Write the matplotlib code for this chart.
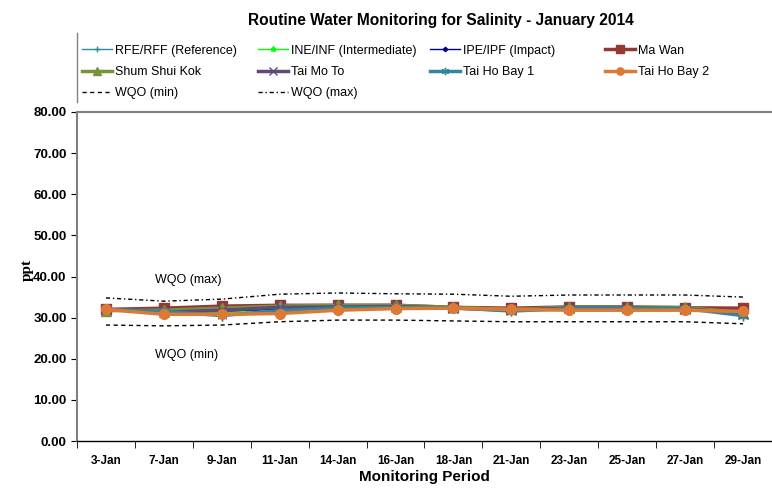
import matplotlib
matplotlib.use('Agg')
import matplotlib.pyplot as plt
from matplotlib.lines import Line2D

# -------------- data ---------------------------------------------------------
dates = ['3-Jan', '7-Jan', '9-Jan', '11-Jan', '14-Jan', '16-Jan',
         '18-Jan', '21-Jan', '23-Jan', '25-Jan', '27-Jan', '29-Jan']

rfe = [32.0, 31.5, 31.5, 32.0, 32.2, 32.4, 32.3, 32.0, 32.2, 32.2, 32.2, 31.8]
ine = [32.0, 31.3, 31.3, 31.5, 32.2, 32.4, 32.3, 31.9, 32.1, 32.1, 32.1, 31.7]
ipe = [32.0, 31.6, 31.6, 32.1, 32.3, 32.5, 32.3, 31.9, 32.2, 32.2, 32.2, 31.6]
ma_wan = [32.0, 32.3, 32.8, 33.0, 33.0, 33.0, 32.5, 32.3, 32.6, 32.6, 32.4, 32.3]
shum_shui_kok = [31.7, 31.8, 32.3, 32.8, 33.0, 33.0, 32.5, 32.0, 32.5, 32.5, 32.5, 31.2]
tai_mo_to = [32.0, 31.3, 31.8, 32.5, 32.6, 32.7, 32.3, 31.8, 32.3, 32.3, 32.2, 31.0]
tai_ho_bay1 = [32.0, 31.5, 30.5, 31.7, 32.3, 32.5, 32.4, 31.6, 32.2, 32.2, 32.2, 30.5]
tai_ho_bay2 = [32.0, 30.8, 30.8, 31.0, 31.8, 32.2, 32.3, 32.0, 31.8, 31.8, 31.8, 31.5]
wqo_min = [28.2, 28.0, 28.2, 29.0, 29.4, 29.4, 29.2, 29.0, 29.0, 29.0, 29.0, 28.5]
wqo_max = [34.8, 34.0, 34.5, 35.7, 36.0, 35.8, 35.7, 35.2, 35.5, 35.5, 35.5, 35.0]

yticks = [0, 10, 20, 30, 40, 50, 60, 70, 80]
# ---------------------------------------------------------------------------

plt.rcParams['font.family'] = ['Liberation Sans', 'DejaVu Sans']

fig = plt.figure(figsize=(7.72, 4.91), dpi=100)
ax = fig.add_axes([0.0997, 0.1018, 0.9003, 0.6701])
x = list(range(len(dates)))

series = [
    ('RFE/RFF (Reference)', rfe, '#2a8f9c', '+', 1.0, 6),
    ('INE/INF (Intermediate)', ine, '#00ff00', '*', 1.0, 5),
    ('IPE/IPF (Impact)', ipe, '#000080', 'D', 1.0, 3),
    ('Ma Wan', ma_wan, '#953735', 's', 2.5, 7),
    ('Shum Shui Kok', shum_shui_kok, '#77933c', '^', 2.5, 7),
    ('Tai Mo To', tai_mo_to, '#604a7b', 'x', 2.5, 7),
    ('Tai Ho Bay 1', tai_ho_bay1, '#31859c', (6, 2, 0), 2.5, 7),
    ('Tai Ho Bay 2', tai_ho_bay2, '#dc7a35', 'o', 2.5, 7),
]
handles = []
for name, vals, col, mk, lw, ms in series:
    h, = ax.plot(x, vals, color=col, marker=mk, lw=lw, ms=ms, label=name,
                 markeredgecolor=col)
    handles.append(h)

h, = ax.plot(x, wqo_min, color='black', ls=(0, (3, 2.5)), lw=1, label='WQO (min)')
handles.append(h)
h, = ax.plot(x, wqo_max, color='black', ls=(0, (3, 2, 1, 2)), lw=1, label='WQO (max)')
handles.append(h)

ax.text(0.85, 39.2, 'WQO (max)', fontsize=9, va='center')
ax.text(0.85, 21.0, 'WQO (min)', fontsize=9, va='center')

ax.set_xlim(-0.5, 11.5)
ax.set_ylim(0, 80)
ax.set_yticks(yticks)
ax.set_yticklabels(['%.2f' % v for v in yticks], fontsize=9.5, fontweight='bold')
ax.set_xticks(x)
ax.set_xticklabels(dates, fontsize=8.5, fontweight='bold')
ax.set_xticks([i - 0.5 for i in range(len(dates) + 1)], minor=True)
ax.tick_params(axis='x', which='major', length=0, pad=10)
ax.tick_params(axis='x', which='minor', length=5, color='black', direction='out')
ax.tick_params(axis='y', length=4, color='black', direction='out')

for s in ['left', 'top']:
    ax.spines[s].set_color('#808080')
    ax.spines[s].set_linewidth(1.5)
ax.spines['bottom'].set_color('black')
ax.spines['bottom'].set_linewidth(1)
ax.spines['right'].set_visible(False)

ax.set_xlabel('Monitoring Period', fontsize=11, fontweight='bold', labelpad=2)
ax.set_ylabel('ppt', fontsize=11, fontweight='bold', family='Liberation Serif')
ax.yaxis.set_label_coords(-0.062, 0.52)

fig.text(0.571, 0.959, 'Routine Water Monitoring for Salinity - January 2014',
         ha='center', va='center', fontsize=11.2, fontweight='bold')

# legend: 4 columns, filled row by row
col_x = [0.1062, 0.3342, 0.557, 0.7837]
for c in range(4):
    hs = handles[c::4]
    lg = fig.legend(handles=hs, labels=[hh.get_label() for hh in hs],
                    loc='upper left', bbox_to_anchor=(col_x[c], 0.909),
                    frameon=False, fontsize=9, handlelength=2.4,
                    handletextpad=0.25, labelspacing=0.74, markerscale=0.75,
                    borderpad=0, borderaxespad=0)
fig.add_artist(Line2D([0.0997, 0.0997], [0.792, 0.933], color='#808080', lw=1))

fig.savefig('out.png', dpi=100)
